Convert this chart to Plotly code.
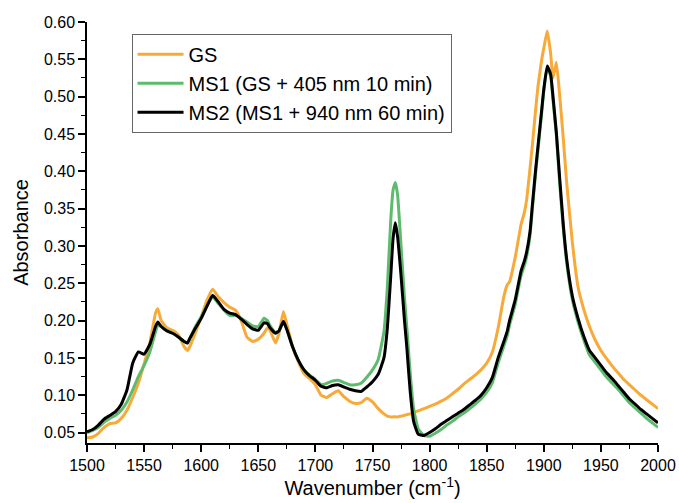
import plotly.graph_objects as go

wavenumber = [1500,1505,1510,1515,1520,1525,1530,1535,1540,1545,1550,1555,1560,1562,1565,1570,1575,1580,1585,1588,1590,1595,
              1600,1605,1610,1615,1620,1625,1630,1635,1640,1645,1650,1655,1658,1660,1665,1668,1672,1675,1680,1685,1690,1695,
              1700,1705,1710,1715,1720,1725,1730,1735,1740,1745,1750,1755,1760,1763,1766,1768,1770,1772,1775,1778,1780,1783,1786,1790,1795,
              1800,1805,1810,1815,1820,1825,1830,1835,1840,1845,1850,1855,1860,1865,1868,1870,1875,1880,1883,1885,1888,1890,1893,1895,1898,
              1900,1903,1906,1908,1911,1914,1917,1920,1925,1930,1935,1940,1945,1950,1955,1960,1965,1970,1975,1980,1985,1990,1995,2000]

gs = [0.043,0.044,0.049,0.057,0.062,0.063,0.069,0.080,0.097,0.116,0.142,0.170,0.210,0.216,0.200,0.190,0.187,0.181,0.165,0.160,0.165,0.184,
      0.205,0.227,0.242,0.232,0.224,0.218,0.214,0.200,0.178,0.172,0.175,0.183,0.190,0.188,0.170,0.182,0.212,0.195,0.165,0.145,0.129,0.122,
      0.114,0.100,0.097,0.102,0.106,0.098,0.092,0.089,0.090,0.096,0.091,0.082,0.075,0.072,0.071,0.071,0.071,0.071,0.072,0.073,0.074,0.075,0.077,0.079,0.082,
      0.085,0.088,0.092,0.096,0.102,0.108,0.115,0.121,0.127,0.134,0.143,0.158,0.190,0.232,0.248,0.252,0.285,0.328,0.345,0.362,0.405,0.435,0.485,0.515,0.548,
      0.565,0.588,0.558,0.525,0.546,0.500,0.445,0.385,0.305,0.245,0.215,0.192,0.174,0.160,0.149,0.139,0.130,0.121,0.114,0.107,0.100,0.094,0.088,0.082]

ms1 = [0.050,0.053,0.057,0.064,0.069,0.073,0.080,0.091,0.107,0.125,0.140,0.158,0.185,0.194,0.192,0.187,0.183,0.178,0.172,0.170,0.176,0.192,
       0.205,0.220,0.232,0.223,0.214,0.207,0.207,0.203,0.198,0.193,0.192,0.203,0.200,0.194,0.184,0.186,0.198,0.188,0.165,0.147,0.134,0.127,
       0.121,0.114,0.116,0.119,0.120,0.117,0.114,0.114,0.116,0.124,0.134,0.148,0.185,0.245,0.335,0.375,0.385,0.368,0.300,0.230,0.192,0.130,0.082,0.055,0.046,
       0.045,0.049,0.054,0.060,0.065,0.071,0.076,0.082,0.088,0.095,0.104,0.117,0.143,0.166,0.180,0.194,0.222,0.260,0.274,0.286,0.315,0.350,0.400,0.430,0.476,
       0.507,0.539,0.528,0.496,0.448,0.382,0.325,0.278,0.228,0.198,0.174,0.154,0.144,0.134,0.124,0.116,0.108,0.099,0.090,0.083,0.076,0.069,0.063,0.057]

ms2 = [0.051,0.054,0.060,0.068,0.073,0.078,0.088,0.107,0.143,0.158,0.155,0.168,0.192,0.198,0.192,0.186,0.183,0.178,0.172,0.170,0.176,0.190,
       0.203,0.219,0.234,0.225,0.215,0.210,0.208,0.202,0.195,0.189,0.187,0.197,0.196,0.191,0.183,0.186,0.199,0.188,0.165,0.147,0.134,0.126,
       0.120,0.112,0.110,0.113,0.114,0.111,0.108,0.106,0.105,0.111,0.118,0.128,0.150,0.190,0.260,0.310,0.331,0.312,0.260,0.200,0.165,0.105,0.065,0.048,0.046,
       0.050,0.055,0.061,0.066,0.071,0.076,0.081,0.087,0.093,0.100,0.110,0.124,0.150,0.172,0.186,0.200,0.228,0.266,0.280,0.292,0.320,0.355,0.405,0.435,0.480,
       0.510,0.541,0.530,0.501,0.452,0.389,0.330,0.283,0.233,0.203,0.179,0.160,0.150,0.140,0.130,0.122,0.113,0.104,0.095,0.088,0.081,0.075,0.069,0.063]

series_names = ["GS", "MS1 (GS + 405 nm 10 min)", "MS2 (MS1 + 940 nm 60 min)"]
series_values = [gs, ms1, ms2]
series_colors = ["#F7AA38", "#5DBB6E", "#000000"]

x_ticks = [1500, 1550, 1600, 1650, 1700, 1750, 1800, 1850, 1900, 1950, 2000]
y_ticks = [0.05, 0.10, 0.15, 0.20, 0.25, 0.30, 0.35, 0.40, 0.45, 0.50, 0.55, 0.60]

fig = go.Figure()
for name, vals, col in zip(series_names, series_values, series_colors):
    fig.add_trace(go.Scatter(x=wavenumber, y=vals, mode="lines", name=name,
                             line=dict(color=col, width=3, shape="spline", smoothing=0.4)))

font_family = "Liberation Sans, Arial, sans-serif"
fig.update_layout(
    width=679, height=503,
    margin=dict(l=87, r=21, t=22, b=60),
    paper_bgcolor="white", plot_bgcolor="white",
    font=dict(family=font_family, color="black", size=16),
    showlegend=True,
    legend=dict(x=0.078, y=0.972, xanchor="left", yanchor="top",
                bgcolor="white", bordercolor="#666666", borderwidth=1,
                font=dict(size=20, family=font_family), tracegroupgap=0,
                itemwidth=46),
)
fig.update_xaxes(
    range=[1500, 2000], tickvals=x_ticks, ticktext=[str(v) for v in x_ticks],
    showgrid=False, zeroline=False, showline=True, linecolor="black", linewidth=1.5,
    ticks="outside", ticklen=7, tickwidth=1.5, tickcolor="black",
    tickfont=dict(size=16),
    minor=dict(ticks="outside", ticklen=4, tickwidth=1.2, tickcolor="black", dtick=25, tick0=1500, showgrid=False),
    title=dict(text="Wavenumber (cm<sup>-1</sup>)", font=dict(size=20), standoff=8),
    automargin=False,
)
fig.update_yaxes(
    range=[0.036, 0.60], tickvals=y_ticks, ticktext=[f"{v:.2f}" for v in y_ticks],
    showgrid=False, zeroline=False, showline=True, linecolor="black", linewidth=1.5,
    ticks="outside", ticklen=7, tickwidth=1.5, tickcolor="black",
    tickfont=dict(size=16),
    minor=dict(ticks="outside", ticklen=4, tickwidth=1.2, tickcolor="black", dtick=0.025, tick0=0.05, showgrid=False),
    title=dict(text="Absorbance", font=dict(size=20), standoff=10),
    automargin=False,
)

fig.write_html("out.html")
